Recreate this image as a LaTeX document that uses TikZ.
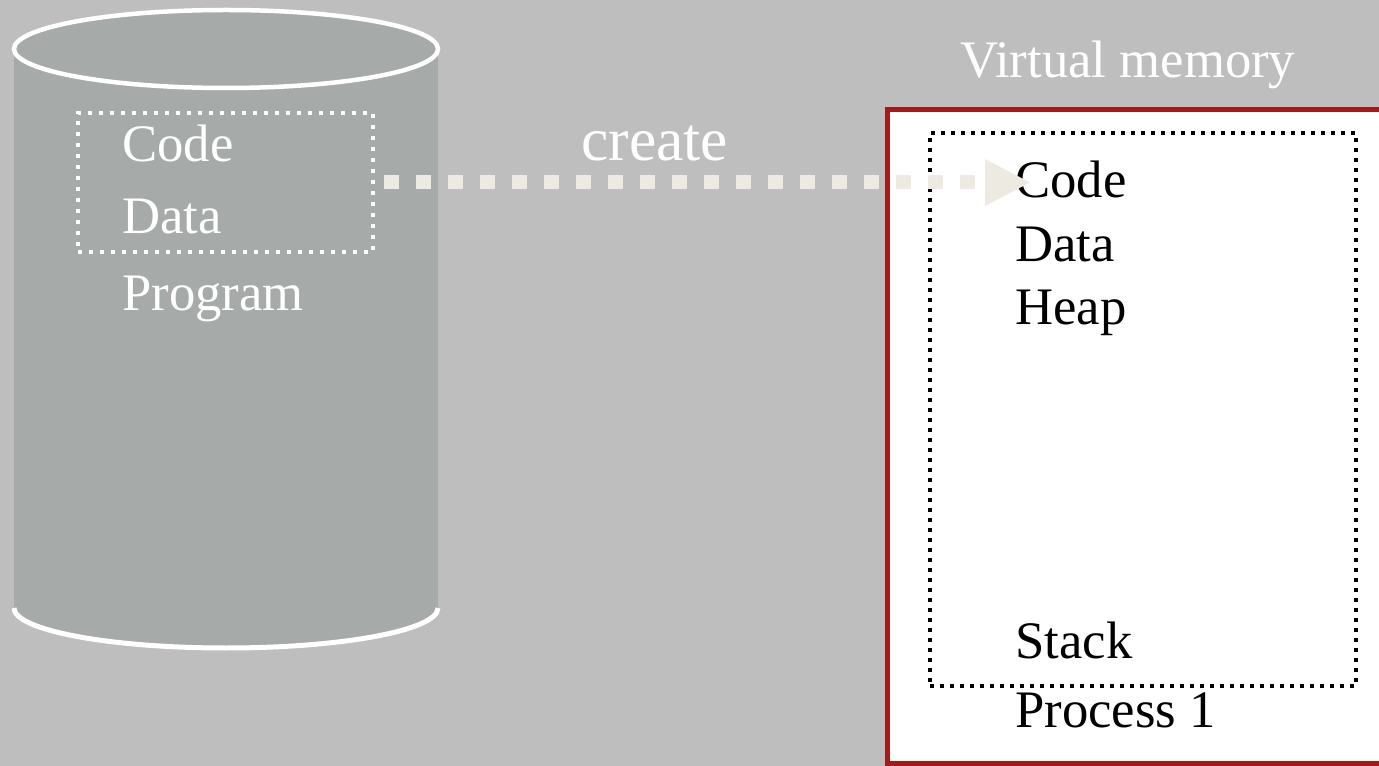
\documentclass[tikz,border=0pt]{standalone}
\usepackage{fontspec}
\setmainfont{Liberation Serif}
\usetikzlibrary{arrows.meta}

\definecolor{slideGray}{HTML}{BEBEBE}
\definecolor{diskGray}{HTML}{A6AAA8}
\definecolor{arrowCream}{HTML}{EDEBE1}
\definecolor{frameRed}{HTML}{A01B1C}

\begin{document}
\begin{tikzpicture}[x=0.02cm, y=-0.02cm,
    textLabel/.style={anchor=base west, inner sep=0pt, font=\fontsize{30}{36}\selectfont},
    diskLabel/.style={textLabel, text=white},
    dotFrame/.style={draw, line width=0.08cm, dash pattern=on 0.08cm off 0.14cm, inner sep=0pt},
    createArrow/.style={arrowCream, line width=0.28cm, dash pattern=on 0.3cm off 0.34cm,
        shorten <=0.18cm, shorten >=-0.3cm, -{Triangle[length=0.9cm, width=0.94cm, line width=0pt]}}]

    \def\diskLeft{14};   % sides of the disk
    \def\diskRight{438};
    \def\diskMid{226};
    \def\diskTop{49};    % centre line of the top ellipse
    \def\diskBottom{608};
    \def\diskRx{212};
    \def\diskRy{40};

    \useasboundingbox (0,0) rectangle (1379,766);
    \clip (0,0) rectangle (1379,766);
    \fill[slideGray] (0,0) rectangle (1379,766);

    %%% disk %%%
    \fill[diskGray] (\diskLeft,\diskTop) -- (\diskLeft,\diskBottom)
        arc[start angle=180, end angle=0, x radius=\diskRx, y radius=\diskRy]
        -- (\diskRight,\diskTop) -- cycle;
    % front edge of the bottom
    \draw[white, line width=0.1cm] (\diskLeft,\diskBottom)
        arc[start angle=180, end angle=0, x radius=\diskRx, y radius=\diskRy];
    % lid
    \draw[white, fill=diskGray, line width=0.09cm] (\diskMid,\diskTop) ellipse[x radius=\diskRx, y radius=39];

    \node[diskLabel] (pcode) at (122,162) {Code};
    \node[diskLabel] (pdata) at (122,234) {Data};
    \node[diskLabel] (prog) at (122,311) {Program};
    \node[dotFrame, draw=white, minimum width=5.9cm, minimum height=2.78cm] (codebox) at (225.5,182.5) {};

    %%% virtual memory %%%
    \node[diskLabel] (vmem) at (960,78) {Virtual memory};
    \draw[frameRed, fill=white, line width=0.1cm] (887,110) rectangle (1400,763);
    \node[dotFrame, draw=black, dash pattern=on 0.08cm off 0.12cm,
        minimum width=8.52cm, minimum height=11.06cm] (procbox) at (1143,409.5) {};

    \node[textLabel] (vcode) at (1015,198) {Code};
    \node[textLabel] (vdata) at (1015,262) {Data};
    \node[textLabel] (vheap) at (1015,325) {Heap};
    \node[textLabel] (vstack) at (1015,658) {Stack};
    \node[textLabel] (vproc) at (1015,727) {Process 1};

    %%% loading the program %%%
    \draw[createArrow] (codebox.east) -- (codebox.east -| vcode.west);
    \node[diskLabel, font=\fontsize{35}{42}\selectfont] (create) at (581,161) {create};
\end{tikzpicture}
\end{document}
